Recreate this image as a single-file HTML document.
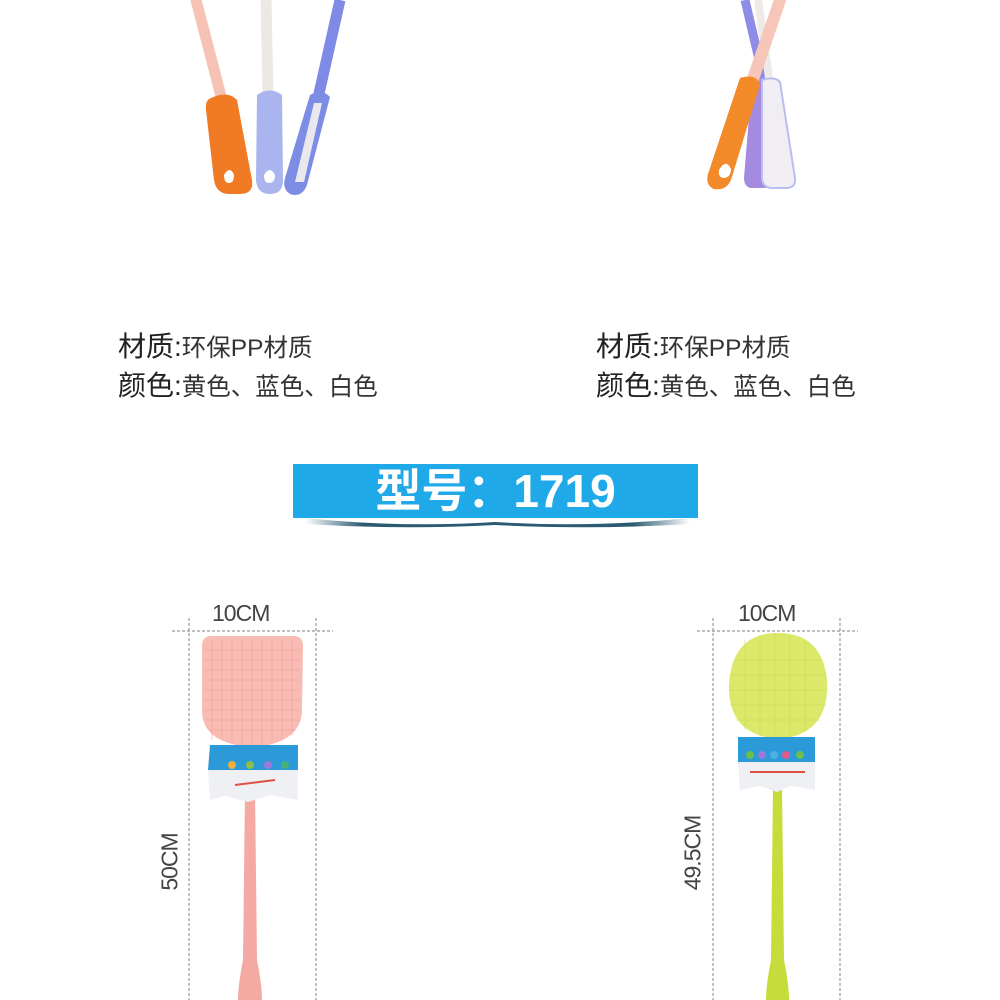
<!DOCTYPE html>
<html><head><meta charset="utf-8"><style>
html,body{margin:0;padding:0;background:#fff;}
.wrap{position:relative;width:1000px;height:1000px;overflow:hidden;background:#fff;font-family:"Liberation Sans","Noto Sans CJK SC",sans-serif;}
.t{position:absolute;color:#333;white-space:nowrap;}
.t b{font-size:28px;font-weight:normal;color:#222;}
.t span{font-size:24.5px;}
.dim{position:absolute;color:#444;font-size:23px;letter-spacing:-1px;}
</style></head><body><div class="wrap">
<svg width="1000" height="1000" style="position:absolute;left:0;top:0">
<line x1="196" y1="0" x2="222" y2="100" stroke="#f6c2b6" stroke-width="11" stroke-linecap="round"/>
<line x1="266" y1="0" x2="268" y2="95" stroke="#ece9e2" stroke-width="11"/>
<line x1="340" y1="0" x2="318" y2="98" stroke="#7f8ae6" stroke-width="11"/>
<path d="M211 98 Q228 90 237 100 L252 180 Q254 194 240 194 L228 194 Q216 193 214 180 L206 110 Q205 100 211 98Z" fill="#f07b24"/>
<path d="M224 175 q6-10 10 0 q0 8-5 8 q-5 0-5-8z" fill="#fff"/>
<path d="M257 95 Q270 86 282 95 L283 180 Q283 194 270 194 Q257 194 256 180Z" fill="#aab4ee"/>
<path d="M264 175 q6-10 11 0 q0 8-6 8 q-5 0-5-8z" fill="#fff"/>
<path d="M310 95 Q322 88 330 97 L307 185 Q302 198 290 194 Q282 189 285 178Z" fill="#7d8ce4"/>
<path d="M314 103 L322 103 L304 182 L295 182Z" fill="#e8e8ee"/>
<line x1="745" y1="0" x2="765" y2="85" stroke="#8d8ce6" stroke-width="9"/>
<line x1="758" y1="0" x2="770" y2="85" stroke="#eeeae8" stroke-width="8"/>
<path d="M752 80 Q770 75 775 82 L775 180 Q774 188 762 188 L750 188 Q744 186 744 178Z" fill="#a58be0"/>
<path d="M762 80 Q775 76 780 82 L795 178 Q796 188 786 188 L770 188 Q762 186 762 178Z" fill="#f1eef3" stroke="#b9bdf0" stroke-width="2"/>
<line x1="780" y1="0" x2="752" y2="82" stroke="#f6c6b8" stroke-width="12" stroke-linecap="round"/>
<path d="M740 78 Q757 73 760 85 L731 180 Q726 191 714 189 Q705 185 708 174Z" fill="#f28a2a"/>
<path d="M719 170 q7-12 12 -1 q0 8-7 9 q-6 0-5-8z" fill="#fff"/>
<defs><linearGradient id="sh" x1="0" x2="1"><stop offset="0" stop-color="#fff"/><stop offset=".15" stop-color="#2c5a72"/><stop offset=".85" stop-color="#2c5a72"/><stop offset="1" stop-color="#fff"/></linearGradient></defs>
<path d="M305 518 Q400 528 495 522 Q590 528 690 518 L690 524 Q590 530 495 525 Q400 530 305 524Z" fill="url(#sh)"/>
<rect x="293" y="464" width="405" height="54" fill="#1fa9e8"/>
<g stroke="#999" stroke-width="1.2" stroke-dasharray="3,2">
<line x1="189" y1="618" x2="189" y2="1000"/><line x1="316" y1="618" x2="316" y2="1000"/>
<line x1="172" y1="631" x2="333" y2="631"/>
<line x1="713" y1="618" x2="713" y2="1000"/><line x1="840" y1="618" x2="840" y2="1000"/>
<line x1="697" y1="631" x2="858" y2="631"/>
</g>
<path d="M245 790 L255 790 L257 960 Q262 985 262 1000 L238 1000 Q238 985 243 960Z" fill="#f4a9a2"/>
<path d="M210 636 L295 636 Q303 637 303 646 L302 712 Q300 738 268 745 L236 745 Q203 738 202 712 L202 646 Q202 637 210 636Z" fill="#f8bcb5"/>
<g stroke="#f09f98" stroke-width="1" opacity=".6">
<path d="M205 650H300M205 660H300M205 670H300M205 680H300M205 690H300M205 700H300M205 710H300M205 720H300M210 730H295"/>
<path d="M212 640V740M222 640V740M232 640V740M242 640V745M252 640V745M262 640V745M272 640V740M282 640V740M292 640V735"/>
</g>
<path d="M210 745 L298 745 L298 770 L208 770Z" fill="#2c9ad8"/>
<path d="M208 770 L298 770 L298 800 L270 795 L248 802 L225 796 L210 800Z" fill="#eef0f4"/>
<circle cx="232" cy="765" r="4" fill="#f0b040"/><circle cx="250" cy="765" r="4" fill="#8bc04a"/><circle cx="268" cy="765" r="4" fill="#9a7ad8"/><circle cx="285" cy="765" r="4" fill="#4ab07a"/>
<line x1="235" y1="785" x2="275" y2="780" stroke="#e05040" stroke-width="2"/>
<path d="M773 785 L782 785 L784 960 Q789 985 789 1000 L766 1000 Q766 985 771 960Z" fill="#c6dc3a"/>
<path d="M778 633 Q822 633 827 680 Q830 735 778 739 Q728 735 729 685 Q732 633 778 633Z" fill="#dbe86a"/>
<g stroke="#c9da50" stroke-width="1" opacity=".5">
<path d="M735 660H822M730 675H826M729 690H828M730 705H826M735 720H820"/>
<path d="M745 640V730M760 635V738M775 633V740M790 635V738M805 640V732"/>
</g>
<path d="M738 737 L815 737 L815 762 L738 762Z" fill="#2c9ad8"/>
<path d="M738 762 L815 762 L815 790 L790 786 L777 792 L760 786 L740 790Z" fill="#eef0f4"/>
<circle cx="750" cy="755" r="4" fill="#6ac04a"/><circle cx="762" cy="755" r="4" fill="#9a7ad8"/><circle cx="774" cy="755" r="4" fill="#4ab0e0"/><circle cx="786" cy="755" r="4" fill="#e05a8a"/><circle cx="800" cy="755" r="4" fill="#6ac04a"/>
<line x1="750" y1="772" x2="805" y2="772" stroke="#e05040" stroke-width="2"/>
</svg>
<div class="t" style="left:118px;top:325px"><b>材质:</b><span>环保PP材质</span></div>
<div class="t" style="left:118px;top:364px"><b>颜色:</b><span>黄色、蓝色、白色</span></div>
<div class="t" style="left:596px;top:325px"><b>材质:</b><span>环保PP材质</span></div>
<div class="t" style="left:596px;top:364px"><b>颜色:</b><span>黄色、蓝色、白色</span></div>
<div style="position:absolute;left:293px;top:464px;width:405px;height:54px;line-height:54px;text-align:center;color:#fff;font-weight:bold;font-size:46px;font-family:'Liberation Sans','Noto Sans CJK SC',sans-serif;">型号：1719</div>
<div class="dim" style="left:212px;top:600px">10CM</div>
<div class="dim" style="left:738px;top:600px">10CM</div>
<div class="dim" style="left:170px;top:862px;transform:translate(-50%,-50%) rotate(-90deg)">50CM</div>
<div class="dim" style="left:693px;top:853px;transform:translate(-50%,-50%) rotate(-90deg)">49.5CM</div>
</div></body></html>
